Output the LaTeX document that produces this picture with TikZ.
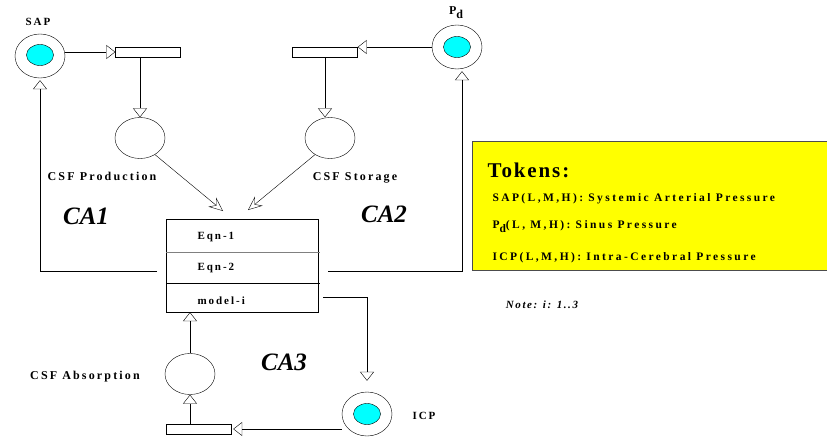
\documentclass[tikz,border=0pt]{standalone}
\usepackage{fontspec}
\setmainfont{Liberation Serif}
\usetikzlibrary{positioning,shapes.geometric,arrows.meta}
\definecolor{tokcyan}{RGB}{0,255,255}
\definecolor{legyellow}{RGB}{255,255,0}

\begin{document}
\begin{tikzpicture}[x=1pt,y=-1pt,
	place/.style={draw, ellipse, minimum width=50pt, minimum height=44pt, inner sep=0pt},
	token/.style={draw, ellipse, fill=tokcyan, minimum width=27pt, minimum height=21pt, inner sep=0pt},
	trans/.style={draw, rectangle, minimum width=65pt, minimum height=10pt, inner sep=0pt},
	cond/.style={draw, ellipse, minimum width=50pt, minimum height=41pt, inner sep=0pt},
	lbl/.style={font=\fontsize{12}{13}\selectfont\bfseries\addfontfeature{LetterSpace=18}},
	boxtxt/.style={font=\fontsize{11}{12}\selectfont\bfseries\addfontfeature{LetterSpace=18}},
	toktxt/.style={font=\fontsize{11.5}{13}\selectfont\bfseries\addfontfeature{LetterSpace=21}},
	area/.style={font=\fontsize{25}{27}\selectfont\bfseries\itshape},
	arc/.style={-{Triangle[open,length=9pt,width=14pt]}},
	barb/.style={-{Stealth[open,length=14pt,width=12pt,inset=5pt]}}
]
	\useasboundingbox (0,0) rectangle (827,439);
	
	% SAP place and first transition
	\node[place] (sap) at (40,56) {};
	\node[token] (saptok) at (40,55) {};
	\node[boxtxt] (saplbl) at (38,22) {SAP};
	\node[trans] (t1) at (148,52) {};
	\node[cond] (prod) at (140,138) {};
	\node[lbl] (prodlbl) at (102,176) {CSF Production};
	\draw[arc] (sap.east |- t1) -- (t1.west);
	\draw[arc] (t1.south -| prod) -- (prod.north);
	
	% Pd place and second transition
	\node[place] (pd) at (457,47) {};
	\node[token] (pdtok) at (457,47) {};
	\node[lbl] (pdlbl) at (456,13) {P\raisebox{-4pt}{d}};
	\node[trans] (t2) at (325,52) {};
	\node[cond] (stor) at (330,138) {};
	\node[lbl] (storlbl) at (355,178) {CSF Storage};
	\draw[arc] (pd.west) -- (pd.west -| t2.east);
	\draw[arc] (t2.south) -- (t2.south |- stor.north);
	
	% model box
	\node[draw, minimum width=152pt, minimum height=93pt, inner sep=0pt] (model) at (242,265.5) {};
	\draw[gray] (166,252) -- (320,252);
	\draw (166,283) -- (320,283);
	\node[boxtxt, anchor=west] (eqa) at (194,237) {Eqn-1};
	\node[boxtxt, anchor=west] (eqb) at (194,268) {Eqn-2};
	\node[boxtxt, anchor=west] (modi) at (194,301) {model-i};
	\coordinate (in1) at (223,211);
	\coordinate (in2) at (248,210);
	\draw[barb] (prod.-48) -- (in1);
	\draw[barb] (stor.-132) -- (in2);
	
	% feedback to SAP and Pd
	\coordinate (fbl) at (157,271);
	\coordinate (fbr) at (328,271);
	\draw[arc, shorten >=2pt] (fbl) -| (sap.south);
	\draw[arc, shorten >=2pt] (fbr) -| ([xshift=5pt]pd.south);
	
	% ICP place and absorption
	\node[place] (icp) at (367,414) {};
	\node[token] (icptok) at (367,414) {};
	\node[boxtxt] (icplbl) at (424,416) {ICP};
	\node[trans] (t3) at (198.5,429) {};
	\node[cond] (absb) at (190,374) {};
	\node[lbl] (abslbl) at (85,377) {CSF Absorption};
	\coordinate (out) at (323,297);
	\draw[arc, shorten >=11pt] (out) -| (icp.north);
	\draw[arc, shorten >=2pt] (icp.west |- t3) -- (t3.east);
	\draw[arc] (t3.north -| absb) -- (absb.south);
	\draw[arc] (absb.north) -- (absb.north |- model.south);
	
	% areas
	\node[area] (ca1) at (86,216) {CA1};
	\node[area] (ca2) at (384,214) {CA2};
	\node[area] (ca3) at (284,362) {CA3};
	
	% tokens legend
	\node[draw=black!70, line width=0.8pt, fill=legyellow, minimum width=355pt, minimum height=129pt, anchor=north west, inner sep=0pt] (legend) at (472,141) {};
	\node[anchor=west, font=\fontsize{21}{23}\selectfont\bfseries\addfontfeature{LetterSpace=9}] (tokhead) at (484,170) {Tokens:};
	\node[toktxt, anchor=west] (toka) at (489,199) {SAP(L,M,H): Systemic Arterial Pressure};
	\node[toktxt, anchor=west] (tokb) at (489,227) {P\raisebox{-4pt}{d}(L, M,H): Sinus Pressure};
	\node[toktxt, anchor=west] (tokc) at (489,258) {ICP(L,M,H): Intra-Cerebral Pressure};
	\node[font=\fontsize{11}{12}\selectfont\bfseries\itshape\addfontfeature{LetterSpace=14}] (note) at (542,305) {Note: i: 1..3};
\end{tikzpicture}
\end{document}
